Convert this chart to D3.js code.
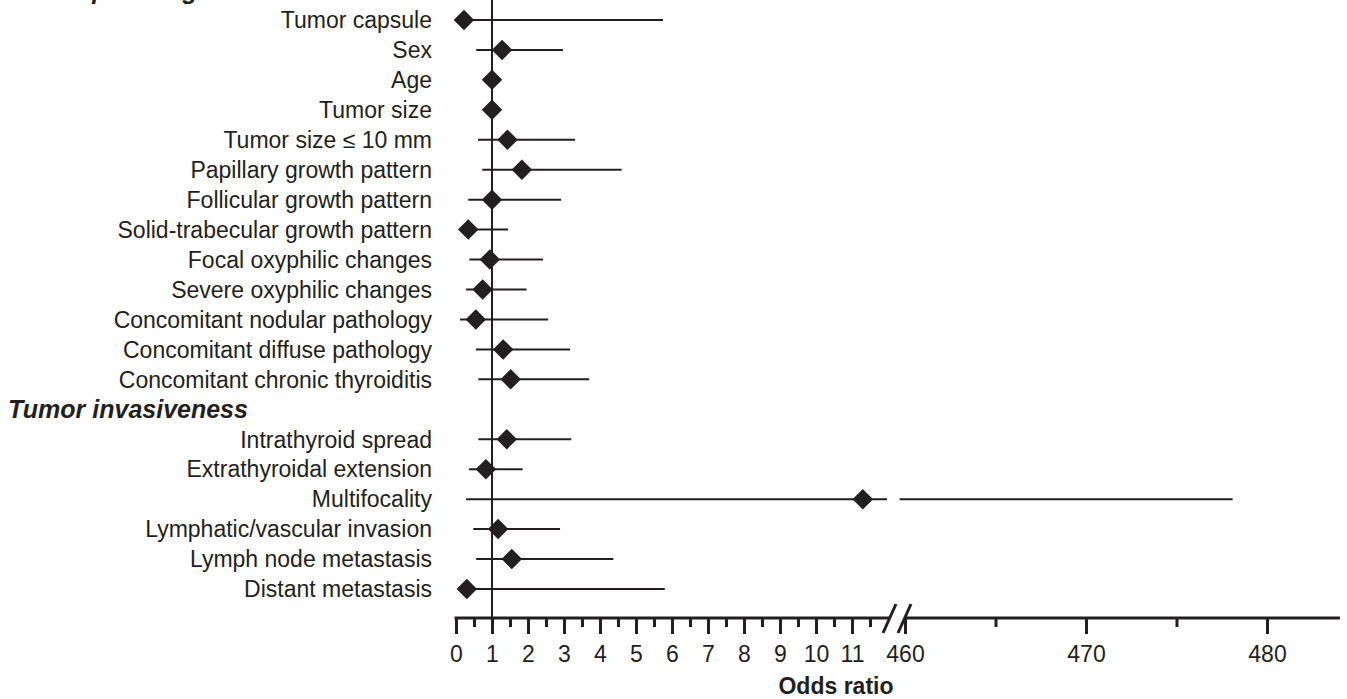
<!DOCTYPE html>
<html>
<head>
<meta charset="utf-8">
<script src="https://cdn.jsdelivr.net/npm/d3@7"></script>
<style>
  body { margin: 0; background: #fff; }
  svg { display: block; }
  text { font-family: "Liberation Sans", Arial, Helvetica, sans-serif; fill: #231f20; }
</style>
</head>
<body>
<div id="chart"></div>
<script>
// section headers and factors (row order top to bottom)
var sections = ["Tumor pathologic features", "Tumor invasiveness"];
var factors = [
  "Tumor capsule", "Sex", "Age", "Tumor size", "Tumor size \u2264 10 mm",
  "Papillary growth pattern", "Follicular growth pattern", "Solid-trabecular growth pattern",
  "Focal oxyphilic changes", "Severe oxyphilic changes", "Concomitant nodular pathology",
  "Concomitant diffuse pathology", "Concomitant chronic thyroiditis",
  "Intrathyroid spread", "Extrathyroidal extension", "Multifocality",
  "Lymphatic/vascular invasion", "Lymph node metastasis", "Distant metastasis"
];
var factorSection = [0,0,0,0,0,0,0,0,0,0,0,0,0,1,1,1,1,1,1];
var oddsRatio = [0.22, 1.28, 1.0, 1.0, 1.43, 1.83, 1.0, 0.34, 0.94, 0.74, 0.55, 1.31, 1.52, 1.41, 0.83, 11.3, 1.17, 1.55, 0.3];
var ciLower   = [0.05, 0.56, 0.99, 0.99, 0.61, 0.73, 0.34, 0.10, 0.37, 0.28, 0.11, 0.55, 0.62, 0.62, 0.36, 0.28, 0.48, 0.56, 0.08];
var ciUpper   = [5.75, 2.97, 1.01, 1.01, 3.31, 4.60, 2.92, 1.45, 2.42, 1.96, 2.56, 3.17, 3.70, 3.20, 1.85, 478.1, 2.89, 4.37, 5.80];

// axis ticks, two pieces with a break between them
var leftMajor = [0,1,2,3,4,5,6,7,8,9,10,11];
var leftMinor = [0.5,1.5,2.5,3.5,4.5,5.5,6.5,7.5,8.5,9.5,10.5,11.5];
var rightMajor = [460, 470, 480];
var rightMinor = [465, 475];
var breakLow = 12, breakHigh = 459.7;

var width = 1347, height = 699;
var ink = "#231f20";

var svg = d3.select("#chart").append("svg")
    .attr("width", width)
    .attr("height", height);

// rows: header keys mixed in with the factors
var rowKeys = [];
sections.forEach(function(s, si) {
  rowKeys.push("H" + si);
  factors.forEach(function(f, i) {
    if (factorSection[i] === si) rowKeys.push("F" + i);
  });
});

var y = d3.scalePoint().domain(rowKeys).range([-10, 589]);

var xl = d3.scaleLinear().domain([0, 12]).range([456, 888]);
var xr = d3.scaleLinear().domain([460, 480]).range([905, 1267]);

function xPos(v) {
  return v <= breakLow ? xl(v) : xr(v);
}

var axisY = 618;

// reference line at OR = 1
svg.append("line")
    .attr("x1", xl(1)).attr("x2", xl(1))
    .attr("y1", 0).attr("y2", axisY)
    .attr("stroke", ink).attr("stroke-width", 2);

// section headers
sections.forEach(function(s, si) {
  svg.append("text")
      .attr("x", 8)
      .attr("y", y("H" + si))
      .attr("dy", "0.36em")
      .attr("font-size", "25px")
      .attr("font-weight", "bold")
      .attr("font-style", "italic")
      .text(s);
});

// factor labels
factors.forEach(function(f, i) {
  svg.append("text")
      .attr("x", 432)
      .attr("y", y("F" + i))
      .attr("dy", "0.36em")
      .attr("text-anchor", "end")
      .attr("font-size", "23px")
      .text(f);
});

// confidence intervals
factors.forEach(function(f, i) {
  var cy = y("F" + i);
  var segs = [];
  if (ciUpper[i] > breakLow) {
    segs.push([xl(ciLower[i]), xl(breakLow) - 1]);
    segs.push([xr(breakHigh), xr(ciUpper[i])]);
  } else {
    segs.push([xl(ciLower[i]), xl(ciUpper[i])]);
  }
  segs.forEach(function(s) {
    svg.append("line")
        .attr("x1", s[0]).attr("x2", s[1])
        .attr("y1", cy).attr("y2", cy)
        .attr("stroke", ink).attr("stroke-width", 2);
  });
});

// diamonds
var diamond = d3.symbol().type(d3.symbolSquare).size(210);
svg.selectAll(".pt")
    .data(oddsRatio)
    .enter().append("path")
    .attr("class", "pt")
    .attr("d", diamond)
    .attr("fill", ink)
    .attr("transform", function(d, i) {
      return "translate(" + xPos(d) + "," + y("F" + i) + ") rotate(45)";
    });

// x axis, left part
function styleAxis(g) {
  g.select(".domain").remove();
  g.selectAll(".tick line").attr("stroke", ink).attr("stroke-width", 3);
  g.selectAll(".tick text")
      .attr("font-size", "23px")
      .attr("fill", ink)
      .attr("font-family", "Liberation Sans, Arial, sans-serif");
}

var gLeftMinor = svg.append("g")
    .attr("transform", "translate(0," + axisY + ")")
    .call(d3.axisBottom(xl).tickValues(leftMinor).tickSize(9).tickFormat(""));
styleAxis(gLeftMinor);

var gLeft = svg.append("g")
    .attr("transform", "translate(0," + axisY + ")")
    .call(d3.axisBottom(xl).tickValues(leftMajor).tickSize(16).tickPadding(12).tickFormat(d3.format("d")));
styleAxis(gLeft);

var gRightMinor = svg.append("g")
    .attr("transform", "translate(0," + axisY + ")")
    .call(d3.axisBottom(xr).tickValues(rightMinor).tickSize(9).tickFormat(""));
styleAxis(gRightMinor);

var gRight = svg.append("g")
    .attr("transform", "translate(0," + axisY + ")")
    .call(d3.axisBottom(xr).tickValues(rightMajor).tickSize(16).tickPadding(12).tickFormat(d3.format("d")));
styleAxis(gRight);

// axis lines
svg.append("line")
    .attr("x1", xl(0) - 1.5).attr("x2", 890)
    .attr("y1", axisY).attr("y2", axisY)
    .attr("stroke", ink).attr("stroke-width", 3);
svg.append("line")
    .attr("x1", 904).attr("x2", 1340)
    .attr("y1", axisY).attr("y2", axisY)
    .attr("stroke", ink).attr("stroke-width", 3);

// break marks
[[883, 896], [898, 911]].forEach(function(b) {
  svg.append("line")
      .attr("x1", b[0]).attr("y1", 633)
      .attr("x2", b[1]).attr("y2", 604)
      .attr("stroke", ink).attr("stroke-width", 3);
});

svg.append("text")
    .attr("x", 836)
    .attr("y", 694)
    .attr("text-anchor", "middle")
    .attr("font-size", "23px")
    .attr("font-weight", "bold")
    .text("Odds ratio");
</script>
</body>
</html>
